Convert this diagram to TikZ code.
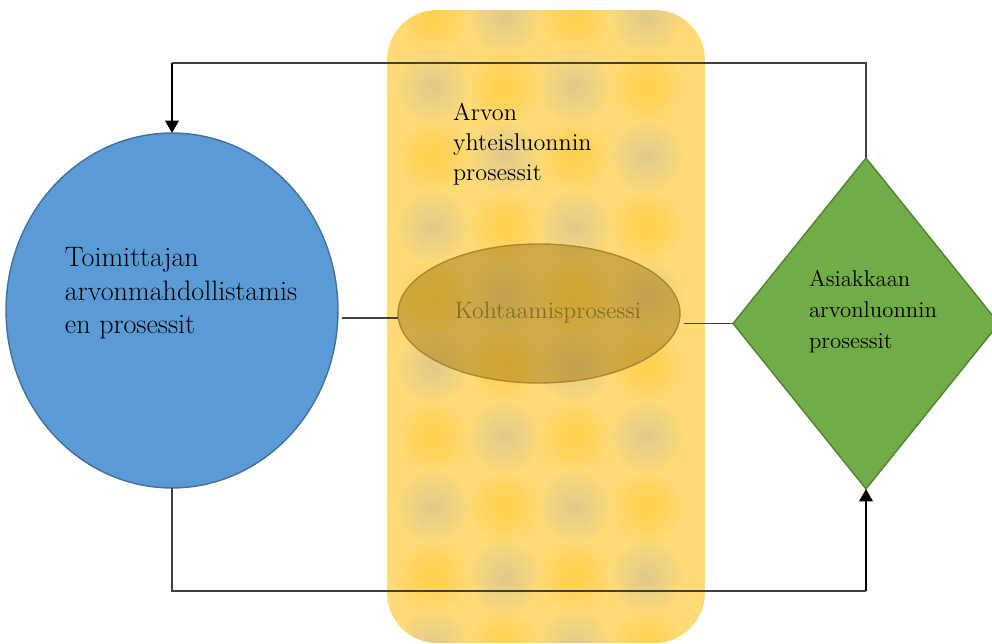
\documentclass[tikz,border=0pt]{standalone}
\usetikzlibrary{shapes.geometric,arrows.meta}

\definecolor{cobase}{RGB}{255,219,120}
\definecolor{cogold}{RGB}{255,196,10}
\definecolor{coblue}{RGB}{160,175,200}
\definecolor{supfill}{RGB}{91,155,213}
\definecolor{supdraw}{RGB}{65,113,156}
\definecolor{custfill}{RGB}{112,173,71}
\definecolor{custdraw}{RGB}{84,130,53}
\definecolor{meetfill}{RGB}{170,130,30}
\definecolor{meetdraw}{RGB}{170,135,50}
\definecolor{meettext}{RGB}{130,112,40}
\definecolor{linegray}{RGB}{64,64,64}

\tikzset{
  thinlink/.style={draw=linegray, line width=0.6pt},
  thicklink/.style={draw=black, line width=1.6pt,
    -{Triangle[length=7pt,width=7.5pt]}},
  lbl/.style={inner sep=0pt, outer sep=0pt, align=left, text=black},
  spotring/.style 2 args={fill=#1, fill opacity=#2},
}

% a soft spot: stacked translucent discs, darkest in the middle
\newcommand{\softspot}[4]{%
  \foreach \rr in {36,32,...,4}{\fill[spotring={#3}{#4}] (#1,#2) circle (\rr);}%
}

\begin{document}
\begin{tikzpicture}[x=0.02cm, y=-0.02cm]
  \useasboundingbox (0,0) rectangle (992,644);

  % value co-creation band
  \node[draw=none, fill=cobase, rectangle, rounded corners=1cm,
        minimum width=6.36cm, minimum height=12.66cm,
        inner sep=0pt, outer sep=0pt] (cocreate) at (546,326.5) {};
  \begin{scope}
    \clip[rounded corners=1cm] (cocreate.south west) rectangle (cocreate.north east);
    \foreach \cx [count=\i] in {433,505,575,647}{
      \foreach \cy [count=\j] in {17,87,157,227,297,367,437,507,577,647}{
        \pgfmathtruncatemacro{\blobparity}{mod(\i+\j,2)}
        \ifnum\blobparity=0
          \softspot{\cx}{\cy}{cogold}{0.05}
        \else
          \softspot{\cx}{\cy}{coblue}{0.035}
        \fi
      }
    }
  \end{scope}

  % process shapes
  \node[ellipse, fill=supfill, draw=supdraw, line width=0.8pt,
        minimum width=6.64cm, minimum height=7.1cm,
        inner sep=0pt, outer sep=0pt] (sup) at (172,310.5) {};
  \node[diamond, fill=custfill, draw=custdraw, line width=0.8pt,
        minimum width=5.32cm, minimum height=6.62cm,
        inner sep=0pt, outer sep=0pt] (cust) at (866,323.5) {};
  \node[ellipse, fill=meetfill, fill opacity=0.55, draw=meetdraw, line width=0.8pt,
        minimum width=5.64cm, minimum height=2.78cm,
        inner sep=0pt, outer sep=0pt] (meet) at (539,313.5) {};

  % connectors
  \coordinate (tl) at (172,63);
  \coordinate (tr) at (866,63);
  \coordinate (bl) at (172,591);
  \coordinate (br) at (866,591);
  \draw[thinlink] (cust.north) -- (tr) -- (tl);
  \draw[thicklink] (tl) -- (sup.north);
  \draw[thinlink] (sup.south) -- (bl) -- (br);
  \draw[thicklink] (br) -- (cust.south);
  \draw[thinlink] ([xshift=0.08cm]sup.east |- 0,318) -- (meet.west |- 0,318);
  \draw[thinlink] ([xshift=0.08cm]meet.east |- cust.west) -- (cust.west);

  % labels
  \node[lbl, font=\fontsize{16}{19.3}\selectfont, anchor=north west]
    (suptxt) at (65,247) {Toimittajan\\arvonmahdollistamis\\en prosessit};
  \node[lbl, font=\fontsize{13.8}{17}\selectfont, anchor=north west]
    (cotxt) at (453,103.5) {Arvon\\yhteisluonnin\\prosessit};
  \node[lbl, font=\fontsize{13}{17.6}\selectfont, anchor=north west]
    (custtxt) at (809,270) {Asiakkaan\\arvonluonnin\\prosessit};
  \node[inner sep=0pt, font=\fontsize{13.5}{16}\selectfont, text=meettext, anchor=base]
    (meettxt) at (548,319) {Kohtaamisprosessi};
\end{tikzpicture}
\end{document}
